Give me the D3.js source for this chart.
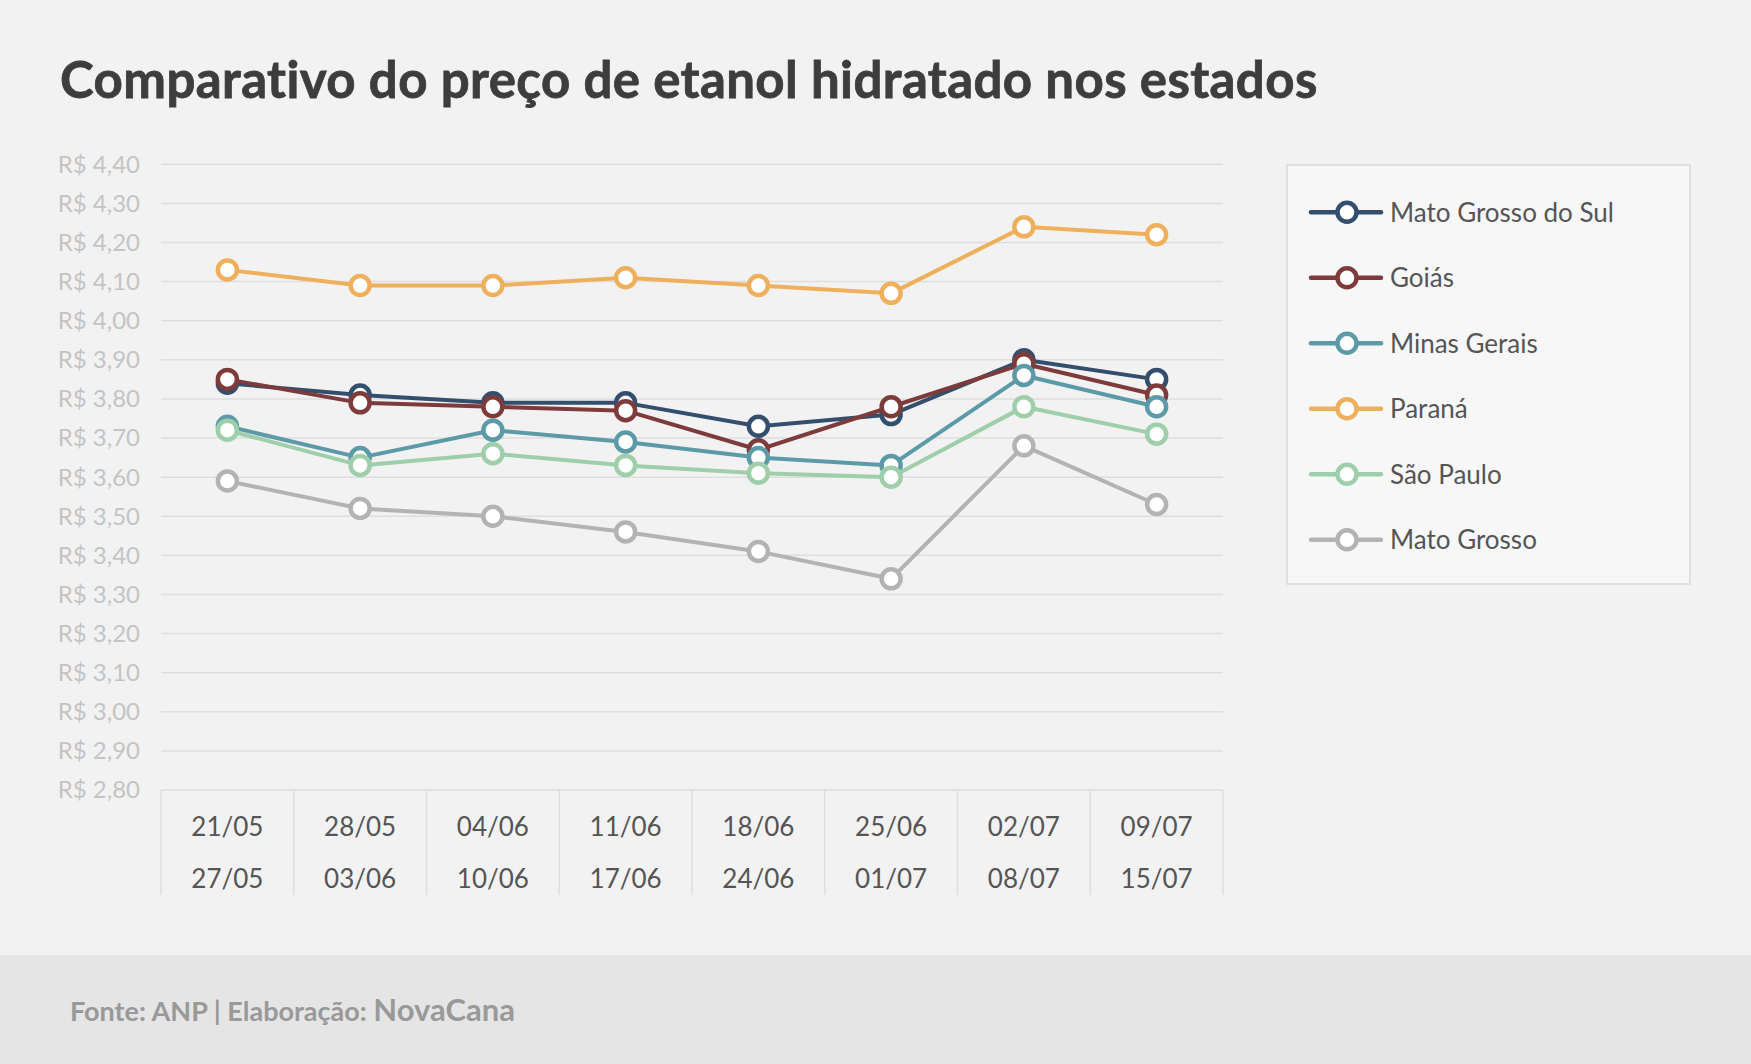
<!DOCTYPE html>
<html>
<head>
<meta charset="utf-8">
<script src="https://cdn.jsdelivr.net/npm/d3@7"></script>
<style>
  body { margin: 0; background: #f2f2f2; }
  svg { display: block; font-family: Lato, "Open Sans", sans-serif; font-variant-ligatures: none; }
</style>
</head>
<body>
<div class="chart"></div>
<script>
// week ranges (two lines per category)
var weekStart = ["21/05", "28/05", "04/06", "11/06", "18/06", "25/06", "02/07", "09/07"];
var weekEnd   = ["27/05", "03/06", "10/06", "17/06", "24/06", "01/07", "08/07", "15/07"];

// prices per state, R$
var matoGrossoDoSul = [3.84, 3.81, 3.79, 3.79, 3.73, 3.76, 3.90, 3.85];
var goias           = [3.85, 3.79, 3.78, 3.77, 3.67, 3.78, 3.89, 3.81];
var minasGerais     = [3.73, 3.65, 3.72, 3.69, 3.65, 3.63, 3.86, 3.78];
var parana          = [4.13, 4.09, 4.09, 4.11, 4.09, 4.07, 4.24, 4.22];
var saoPaulo        = [3.72, 3.63, 3.66, 3.63, 3.61, 3.60, 3.78, 3.71];
var matoGrosso      = [3.59, 3.52, 3.50, 3.46, 3.41, 3.34, 3.68, 3.53];

var stateNames  = ["Mato Grosso do Sul", "Goiás", "Minas Gerais", "Paraná", "São Paulo", "Mato Grosso"];
var stateColors = ["#344e6e", "#7d3b3b", "#5b9aa6", "#eeb05d", "#9fceab", "#b3b3b3"];

var series = [matoGrossoDoSul, goias, minasGerais, parana, saoPaulo, matoGrosso].map(function(v, i){
  return {name: stateNames[i], color: stateColors[i], values: v};
});

var width = 1751, height = 1064;
var margin = {left: 161, right: 1223, top: 164.3, bottom: 790};

var ptBR = d3.formatLocale({decimal: ",", thousands: ".", grouping: [3], currency: ["R$ ", ""]});
var fmt = ptBR.format(".2f");

var svg = d3.select(".chart").append("svg")
    .attr("width", width)
    .attr("height", height);

svg.append("rect").attr("width", width).attr("height", height).attr("fill", "#f2f2f2");

// title (heavier look: bold + thin stroke)
svg.append("text")
  .attr("x", 60).attr("y", 98)
  .attr("fill", "#3d3d3d")
  .attr("stroke", "#3d3d3d")
  .attr("stroke-width", 0.8)
  .style("font-size", "51px")
  .style("font-weight", 700)
  .style("letter-spacing", "0.4px")
  .text("Comparativo do preço de etanol hidratado nos estados");

var x = d3.scaleBand()
  .domain(weekStart)
  .range([margin.left, margin.right])
  .padding(0);

var y = d3.scaleLinear()
  .domain([2.8, 4.4])
  .range([margin.bottom, margin.top]);

// gridlines + y labels
var ticks = y.ticks(16);
svg.append("g").selectAll("line")
  .data(ticks).enter()
  .append("line")
  .attr("x1", margin.left).attr("x2", margin.right)
  .attr("y1", function(d){ return y(d); })
  .attr("y2", function(d){ return y(d); })
  .attr("stroke", "#dedede")
  .attr("stroke-width", 1.5);

svg.append("g").selectAll("text")
  .data(ticks).enter()
  .append("text")
  .attr("x", 140)
  .attr("y", function(d){ return y(d); })
  .attr("dy", "0.35em")
  .attr("text-anchor", "end")
  .attr("fill", "#c4c4c4")
  .style("font-size", "24px")
  .text(function(d){ return "R$ " + fmt(d); });

// category separators
var bounds = weekStart.map(function(d){ return x(d); }).concat([margin.right]);
svg.append("g").selectAll("line")
  .data(bounds).enter()
  .append("line")
  .attr("x1", function(d){ return d; })
  .attr("x2", function(d){ return d; })
  .attr("y1", margin.bottom).attr("y2", 895)
  .attr("stroke", "#dedede")
  .attr("stroke-width", 1.5);

var cats = svg.append("g").selectAll("g")
  .data(weekStart).enter()
  .append("g");
cats.append("text")
  .attr("x", function(d){ return x(d) + x.bandwidth()/2; })
  .attr("y", 836)
  .attr("text-anchor", "middle")
  .attr("fill", "#555")
  .style("font-size", "26px")
  .text(function(d){ return d; });
cats.append("text")
  .attr("x", function(d){ return x(d) + x.bandwidth()/2; })
  .attr("y", 888)
  .attr("text-anchor", "middle")
  .attr("fill", "#555")
  .style("font-size", "26px")
  .text(function(d, i){ return weekEnd[i]; });

// lines and markers
var line = d3.line()
  .x(function(d, i){ return x(weekStart[i]) + x.bandwidth()/2; })
  .y(function(d){ return y(d); });

var sg = svg.append("g").selectAll("g")
  .data(series).enter()
  .append("g");

sg.append("path")
  .attr("d", function(d){ return line(d.values); })
  .attr("fill", "none")
  .attr("stroke", function(d){ return d.color; })
  .attr("stroke-width", 4)
  .attr("stroke-linejoin", "round");

sg.selectAll("circle")
  .data(function(d){ return d.values.map(function(v){ return {v: v, color: d.color}; }); })
  .enter().append("circle")
  .attr("cx", function(d, i){ return x(weekStart[i]) + x.bandwidth()/2; })
  .attr("cy", function(d){ return y(d.v); })
  .attr("r", 9.5)
  .attr("fill", "#fff")
  .attr("stroke", function(d){ return d.color; })
  .attr("stroke-width", 4.5);

// legend
svg.append("rect")
  .attr("x", 1287).attr("y", 165)
  .attr("width", 403).attr("height", 419)
  .attr("fill", "#f7f7f7")
  .attr("stroke", "#e0e0e0")
  .attr("stroke-width", 2);

var legend = svg.selectAll(".legend")
  .data(series).enter()
  .append("g")
  .attr("class", "legend")
  .attr("transform", function(d, i){ return "translate(1347," + (212.3 + i*65.5) + ")"; });

legend.append("line")
  .attr("x1", -36).attr("x2", 34)
  .attr("stroke", function(d){ return d.color; })
  .attr("stroke-width", 4.5)
  .attr("stroke-linecap", "round");
legend.append("circle")
  .attr("r", 9.5)
  .attr("fill", "#fff")
  .attr("stroke", function(d){ return d.color; })
  .attr("stroke-width", 4.5);
legend.append("text")
  .attr("x", 43)
  .attr("dy", "0.36em")
  .attr("fill", "#555")
  .style("font-size", "26px")
  .text(function(d){ return d.name; });

// footer
svg.append("rect")
  .attr("x", 0).attr("y", 955)
  .attr("width", width).attr("height", height - 955)
  .attr("fill", "#e5e5e5");

var foot = svg.append("text")
  .attr("x", 70).attr("y", 1021)
  .attr("fill", "#999");
foot.append("tspan")
  .style("font-size", "27px")
  .style("font-weight", 700)
  .text("Fonte: ANP | Elaboração: ");
foot.append("tspan")
  .style("font-size", "31px")
  .style("font-weight", 700)
  .text("NovaCana");
</script>
</body>
</html>
